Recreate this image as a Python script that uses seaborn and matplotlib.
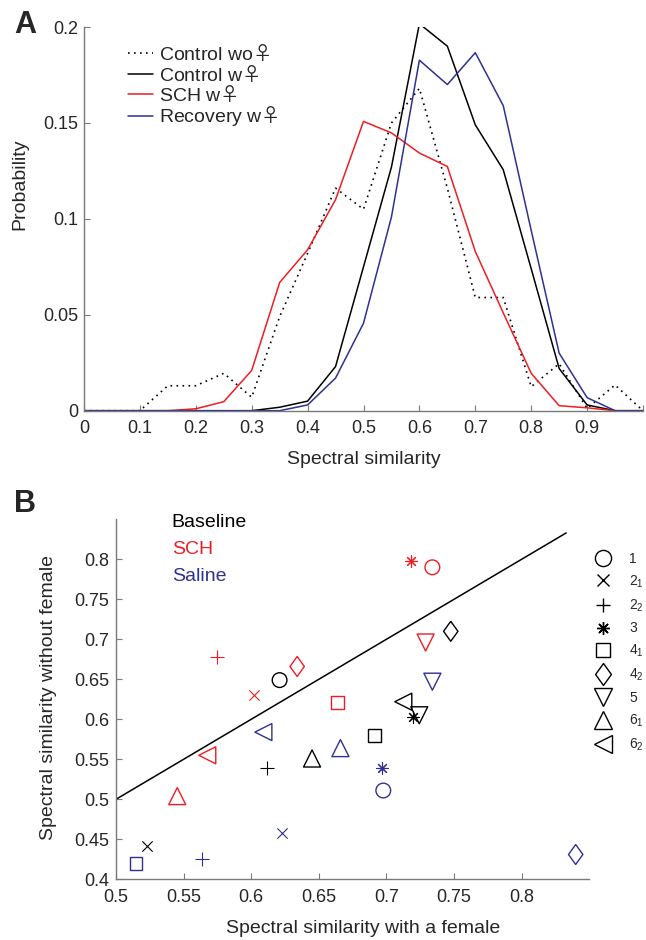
import numpy as np
import pandas as pd
import matplotlib
matplotlib.use("Agg")
import matplotlib.pyplot as plt
from matplotlib.lines import Line2D
import seaborn as sns

# --- DATA: panel A (probability of spectral similarity) ---
sim_bins = [0, 0.05, 0.1, 0.15, 0.2, 0.25, 0.3, 0.35, 0.4, 0.45, 0.5,
            0.55, 0.6, 0.65, 0.7, 0.75, 0.8, 0.85, 0.9, 0.95, 1.0]
control_wo = [0, 0, 0, 0.013, 0.013, 0.0195, 0.007, 0.049, 0.082, 0.116, 0.105,
              0.15, 0.168, 0.116, 0.059, 0.059, 0.0125, 0.0245, 0.0012, 0.0134, 0]
control_w = [0, 0, 0, 0, 0, 0, 0, 0.0018, 0.005, 0.023, 0.075,
             0.127, 0.2017, 0.19, 0.149, 0.1256, 0.074, 0.022, 0.003, 0, 0]
sch_w = [0, 0, 0, 0, 0.001, 0.0047, 0.021, 0.0668, 0.0839, 0.11, 0.1508,
         0.1448, 0.1343, 0.1273, 0.083, 0.051, 0.0195, 0.0026, 0.0015, 0, 0]
recovery_w = [0, 0, 0, 0, 0, 0, 0, 0, 0.003, 0.017, 0.0456,
              0.101, 0.1827, 0.17, 0.1866, 0.159, 0.094, 0.03, 0.0068, 0, 0]

# --- DATA: panel B (with female vs without female) ---
birds = ["1", "2$_1$", "2$_2$", "3", "4$_1$", "4$_2$", "5", "6$_1$", "6$_2$"]
base_x = [0.621, 0.5227, 0.612, 0.720, 0.691, 0.7476, 0.7243, 0.645, 0.7125]
base_y = [0.649, 0.442, 0.539, 0.6025, 0.580, 0.710, 0.605, 0.551, 0.622]
sch_x = [0.734, 0.602, 0.575, 0.718, 0.664, 0.634, 0.729, 0.5453, 0.5675]
sch_y = [0.790, 0.630, 0.678, 0.798, 0.621, 0.666, 0.696, 0.504, 0.555]
sal_x = [0.6977, 0.6228, 0.5634, 0.6965, 0.5148, 0.840, 0.734, 0.666, 0.609]
sal_y = [0.511, 0.4575, 0.425, 0.539, 0.420, 0.431, 0.647, 0.564, 0.584]

RED = "#ee1d23"
BLUE = "#2e3192"
GRAY = "#7a7a7a"

sns.set_style("ticks")
plt.rcParams["font.family"] = ["Liberation Sans", "DejaVu Sans"]
plt.rcParams["mathtext.fontset"] = "custom"
plt.rcParams["mathtext.rm"] = "Liberation Sans"
plt.rcParams["mathtext.it"] = "Liberation Sans"
# big female sign from the CJK font
plt.rcParams["mathtext.sf"] = "Noto Sans CJK JP"
plt.rcParams["axes.edgecolor"] = GRAY
plt.rcParams["axes.linewidth"] = 1.0

FEM = "$\\mathsf{\u2640}$"

fig = plt.figure(figsize=(6.46, 9.4), dpi=100)

# ---------------- panel A ----------------
axA = fig.add_axes([84 / 646, (940 - 410.7) / 940, 559 / 646, 383.7 / 940])
sns.lineplot(x=sim_bins, y=control_wo, ax=axA, color="black", lw=1.2,
             linestyle=(0, (1, 2.6)), label="Control wo" + FEM)
sns.lineplot(x=sim_bins, y=control_w, ax=axA, color="black", lw=1.1, label="Control w" + FEM)
sns.lineplot(x=sim_bins, y=sch_w, ax=axA, color=RED, lw=1.1, label="SCH w" + FEM)
sns.lineplot(x=sim_bins, y=recovery_w, ax=axA, color=BLUE, lw=1.1, label="Recovery w" + FEM)

axA.set_xlim(0, 1)
axA.set_ylim(0, 0.2)
axA.set_xticks(np.arange(0, 1.01, 0.1))
axA.set_xticklabels(["0", "0.1", "0.2", "0.3", "0.4", "0.5", "0.6", "0.7", "0.8", "0.9", ""])
axA.set_yticks([0, 0.05, 0.1, 0.15, 0.2])
axA.set_yticklabels(["0", "0.05", "0.1", "0.15", "0.2"])
axA.tick_params(direction="in", length=4, color=GRAY, labelsize=13, pad=4)
axA.tick_params(axis="x", pad=7)
for s in ["top", "right"]:
    axA.spines[s].set_visible(False)
axA.set_xlabel("Spectral similarity", fontsize=14)
axA.set_ylabel("Probability", fontsize=14)
axA.xaxis.set_label_coords(0.5, -0.105)
axA.yaxis.set_label_coords(-0.1, 0.59)
axA.legend(loc="upper left", bbox_to_anchor=(0.079, 0.958), frameon=False, fontsize=14,
           handlelength=1.3, handletextpad=0.3, labelspacing=-0.03, borderpad=0,
           borderaxespad=0)
fig.text(14 / 646, 1 - 33 / 940, "A", fontsize=22, fontweight="bold")

# ---------------- panel B ----------------
axB = fig.add_axes([116 / 646, (940 - 879.3) / 940, 473.2 / 646, 360 / 940])
markers = ["o", "x", "+", (8, 2, 0), "s",
           [(0, 1), (0.72, 0), (0, -1), (-0.72, 0), (0, 1)], "v", "^", "<"]
sizes = [112, 55, 92, 70, 83, 207, 150, 150, 150]
filled = [True, False, False, False, True, True, True, True, True]

groups = [("Baseline", "black", base_x, base_y),
          ("SCH", RED, sch_x, sch_y),
          ("Saline", BLUE, sal_x, sal_y)]
for name, col, xs, ys in groups:
    for i, m in enumerate(markers):
        if filled[i]:
            sns.scatterplot(x=[xs[i]], y=[ys[i]], ax=axB, marker=m, s=sizes[i],
                            facecolors="none", edgecolor=col, linewidth=1.0, legend=False)
        else:
            sns.scatterplot(x=[xs[i]], y=[ys[i]], ax=axB, marker=m, s=sizes[i],
                            color=col, linewidth=0.8, legend=False)

# unity line
diag = [0.5, 0.833]
sns.lineplot(x=diag, y=diag, ax=axB, color="black", lw=1.1)

axB.set_xlim(0.5, 0.85)
axB.set_ylim(0.4, 0.85)
axB.set_xticks([0.5, 0.55, 0.6, 0.65, 0.7, 0.75, 0.8])
axB.set_xticklabels(["0.5", "0.55", "0.6", "0.65", "0.7", "0.75", "0.8"])
axB.set_yticks([0.4, 0.45, 0.5, 0.55, 0.6, 0.65, 0.7, 0.75, 0.8])
axB.set_yticklabels(["0.4", "0.45", "0.5", "0.55", "0.6", "0.65", "0.7", "0.75", "0.8"])
axB.tick_params(direction="in", length=4, color=GRAY, labelsize=13, pad=5)
axB.tick_params(axis="x", pad=7)
for s in ["top", "right"]:
    axB.spines[s].set_visible(False)
axB.set_xlabel("Spectral similarity with a female", fontsize=14)
axB.set_ylabel("Spectral similarity without female", fontsize=14)
axB.xaxis.set_label_coords(0.522, -0.112)
axB.yaxis.set_label_coords(-0.125, 0.506)

for (name, col, _, _), yy in zip(groups, [0.99, 0.9175, 0.842]):
    axB.text(0.118, yy, name, color=col, fontsize=14, va="center", ha="left",
             transform=axB.transAxes)

handles = []
for i, m in enumerate(markers):
    handles.append(Line2D([], [], linestyle="none", marker=m, color="black",
                          markerfacecolor="none", markersize=np.sqrt(sizes[i]) * 1.1,
                          markeredgewidth=1.0))
axB.legend(handles, birds, loc="upper left", bbox_to_anchor=(1.0, 0.91), frameon=False,
           fontsize=10, handlelength=2, handletextpad=0.9, labelspacing=0.55,
           borderpad=0, borderaxespad=0)
fig.text(14 / 646, 1 - 512 / 940, "B", fontsize=22, fontweight="bold")

fig.savefig("out.png", dpi=100)
